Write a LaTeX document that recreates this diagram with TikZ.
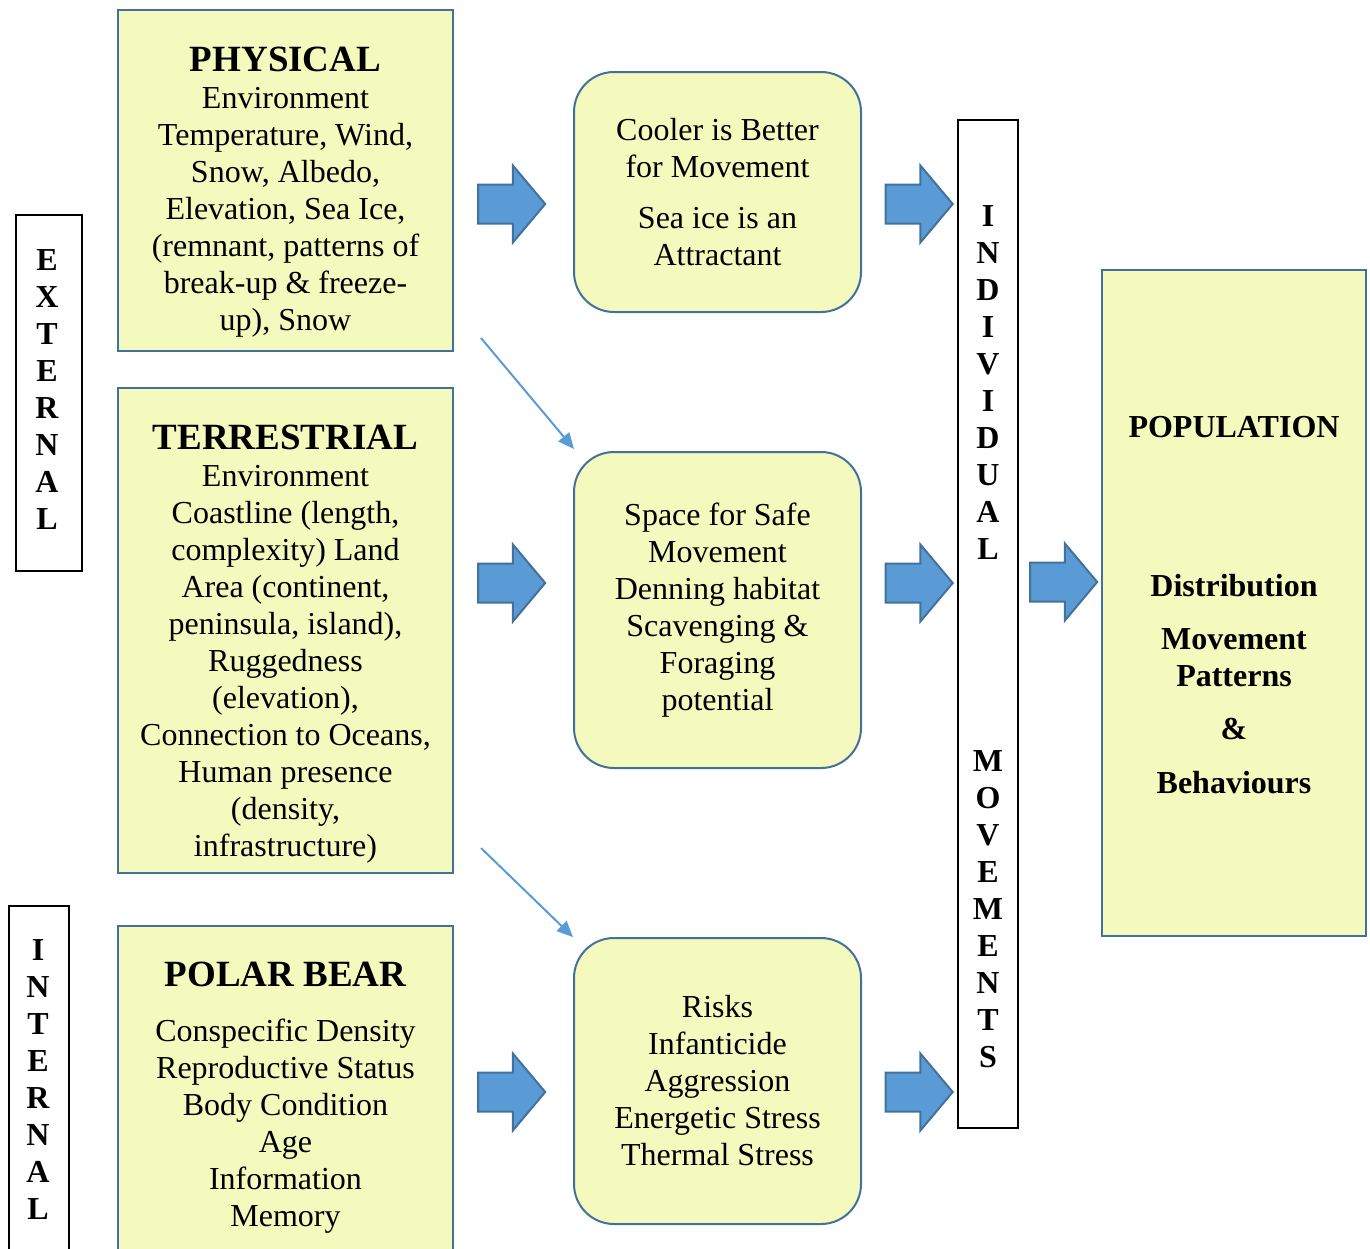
\documentclass[tikz,border=0pt]{standalone}
\usepackage{fontspec}
\setmainfont{Liberation Serif}
\usetikzlibrary{shapes.arrows,arrows.meta}
\definecolor{boxfill}{HTML}{F4FABD}
\definecolor{boxline}{HTML}{41719C}
\definecolor{arrfill}{HTML}{5B9BD5}
\newcommand{\boxtitle}[1]{{\fontsize{18.5}{18.5}\selectfont\bfseries #1}}

\begin{document}
\begin{tikzpicture}[x=0.5pt, y=-0.5pt,
        factor/.style={draw=boxline, line width=1pt, fill=boxfill, minimum width=167.5pt},
        effect/.style={draw=boxline, line width=1pt, fill=boxfill, rounded corners=20pt, minimum width=143.5pt, align=center, font=\fontsize{16}{18.5}\selectfont},
        txt/.style={align=center, font=\fontsize{16}{18.5}\selectfont},
        side/.style={draw=black, line width=0.6pt, fill=white},
        letters/.style={align=center, font=\fontsize{16}{18.5}\selectfont\bfseries},
        bigarrow/.style={single arrow, draw=boxline, line width=1pt, fill=arrfill, inner xsep=0pt, inner ysep=9.25pt, minimum height=33.5pt, minimum width=37.5pt, single arrow head extend=9.5pt, single arrow tip angle=100},
        link/.style={draw=arrfill, line width=1pt, -{Triangle[length=8pt,width=7pt]}}]
        \useasboundingbox (0,0) rectangle (1370,1248);

        \node[factor, minimum height=170.5pt] (phys) at (285.5,180.5) {};
        \node[txt] (physt) at (285.5,192) {\boxtitle{PHYSICAL}\\Environment\\Temperature, Wind,\\Snow, Albedo,\\Elevation, Sea Ice,\\(remnant, patterns of\\break-up \& freeze-\\up), Snow};
        \node[factor, minimum height=242.5pt] (terr) at (285.5,630.5) {};
        \node[txt] (terrt) at (285.5,644) {\boxtitle{TERRESTRIAL}\\Environment\\Coastline (length,\\complexity) Land\\Area (continent,\\peninsula, island),\\Ruggedness\\(elevation),\\Connection to Oceans,\\Human presence\\(density,\\infrastructure)};
        \node[factor, minimum height=172pt] (bear) at (285.5,1098) {};
        \node[txt] (beart) at (285.5,1098) {\boxtitle{POLAR BEAR}\\[9pt]Conspecific Density\\Reproductive Status\\Body Condition\\Age\\Information\\Memory};

        \node[side, minimum width=33pt, minimum height=178pt] (ext) at (49,393) {};
        \node[letters] (extt) at (47,390) {E\\X\\T\\E\\R\\N\\A\\L};
        \node[side, minimum width=30pt, minimum height=182pt] (int) at (39,1088) {};
        \node[letters] (intt) at (38,1080) {I\\N\\T\\E\\R\\N\\A\\L};

        \node[effect, minimum height=120pt] (cool) at (717.5,192) {Cooler is Better\\for Movement\\[7pt]Sea ice is an\\Attractant};
        \node[effect, minimum height=158pt] (safe) at (717.5,610) {Space for Safe\\Movement\\Denning habitat\\Scavenging \&\\Foraging\\potential};
        \node[effect, minimum height=143pt] (risks) at (717.5,1081) {Risks\\Infanticide\\Aggression\\Energetic Stress\\Thermal Stress};

        \node[side, minimum width=30pt, minimum height=504pt] (indiv) at (988,624) {};
        \node[letters] (indivt) at (988,637) {I\\N\\D\\I\\V\\I\\D\\U\\A\\L\\[87.5pt]M\\O\\V\\E\\M\\E\\N\\T\\S};

        \node[factor, minimum width=132pt, minimum height=333pt] (pop) at (1234,603) {};
        \node[letters] (popt) at (1234,605) {POPULATION\\[61pt]Distribution\\[8pt]Movement\\Patterns\\[8pt]\&\\[8.5pt]Behaviours};

        \node[bigarrow] (a1) at (503.5,204) {};
        \node[bigarrow] (a2) at (911,204) {};
        \node[bigarrow] (a3) at (503.5,583) {};
        \node[bigarrow] (a4) at (911,583) {};
        \node[bigarrow] (a5) at (503.5,1092) {};
        \node[bigarrow] (a6) at (911,1092) {};
        \node[bigarrow] (a7) at (1055.5,582) {};

        \draw[link] ([xshift=13.5pt,yshift=7pt]phys.south east) -- ([xshift=0.5pt,yshift=1pt]safe.north west);
        \draw[link] ([xshift=13.5pt,yshift=13pt]terr.south east) -- (risks.north west);
    \end{tikzpicture}
\end{document}
